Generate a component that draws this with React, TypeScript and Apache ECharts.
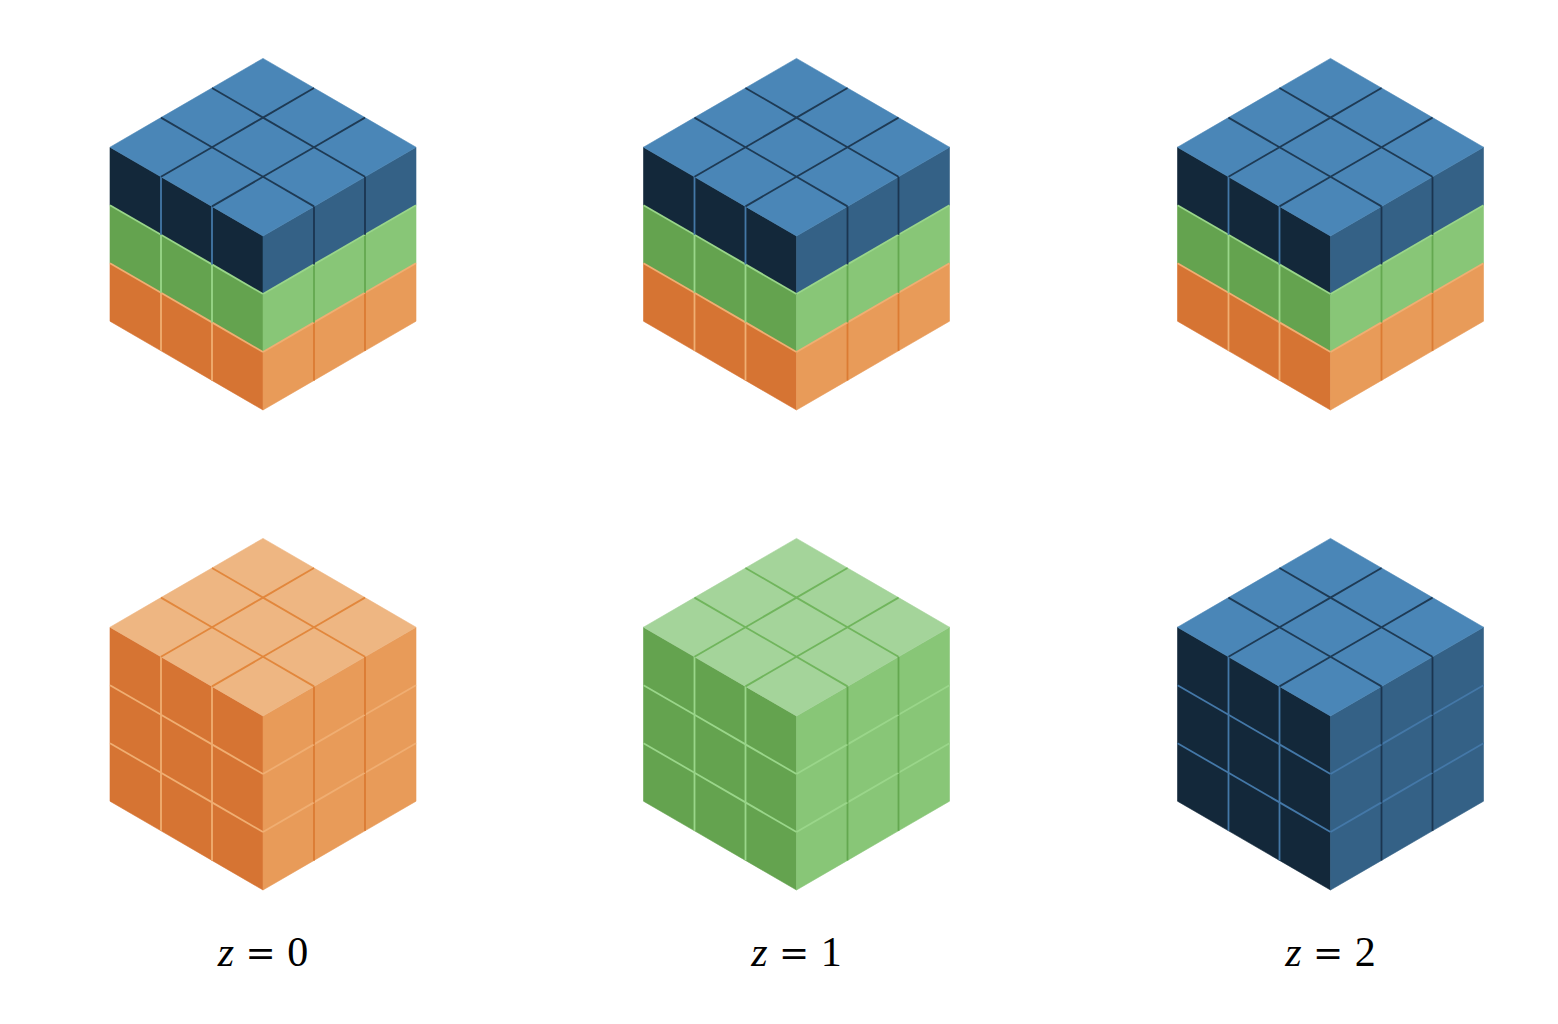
import React, { useEffect, useRef } from 'react';
import * as echarts from 'echarts';

// which colour each layer (c = 0 bottom .. 2 top) of every 3x3x3 block has
const panelLayers: string[][] = [
  ['orange', 'green', 'blue'],
  ['orange', 'green', 'blue'],
  ['orange', 'green', 'blue'],
  ['orange', 'orange', 'orange'],
  ['green', 'green', 'green'],
  ['blue', 'blue', 'blue'],
];
const blockSize = [3, 3, 3];
const panelLabels = ['', '', '', '0', '1', '2'];

// colours of the three visible faces and of the grid lines
const FAMILIES: Record<string, any> = {
  blue: { left: '#13283a', right: '#346186', top: '#4a86b7', light: '#4478a8', dark: '#1b3550', topLine: '#1e3a54' },
  orange: { left: '#d67433', right: '#e89b59', top: '#eeb682', light: '#f0ae72', dark: '#db7b33', topLine: '#e2873c' },
  green: { left: '#64a34f', right: '#88c677', top: '#a4d49a', light: '#9ad68a', dark: '#64a850', topLine: '#70b55c' },
};

// layout in chart pixels
const COL_X = [255, 788.5, 1322.5];
const ROW_Y = [402, 882];
const LABEL_Y = 944;
const DX = 51;
const DY = 29.6;
const DH = 58;

const voxels: number[][] = [];
panelLayers.forEach((_, p) => {
  for (let c = 0; c < blockSize[2]; c++)
    for (let a = 0; a < blockSize[0]; a++)
      for (let b = 0; b < blockSize[1]; b++) voxels.push([p, a, b, c]);
});
// back to front
voxels.sort((u, v) => (v[1] + v[2] - v[3]) - (u[1] + u[2] - u[3]));

const has = (a: number, b: number, c: number) =>
  a >= 0 && b >= 0 && c >= 0 && a < blockSize[0] && b < blockSize[1] && c < blockSize[2];
const leftVis = (a: number, b: number, c: number) => has(a, b, c) && !has(a, b - 1, c);
const rightVis = (a: number, b: number, c: number) => has(a, b, c) && !has(a - 1, b, c);
const topVis = (a: number, b: number, c: number) => has(a, b, c) && !has(a, b, c + 1);

const makeProj = (api: any, p: number) => (A: number, B: number, C: number) =>
  api.coord([COL_X[p % 3] + (B - A) * DX, ROW_Y[Math.floor(p / 3)] - (A + B) * DY - C * DH]);

const App: React.FC = () => {
  const chartRef = useRef<HTMLDivElement>(null);

  useEffect(() => {
    if (!chartRef.current) return;
    const chart = echarts.init(chartRef.current, undefined, { renderer: 'svg' });

    const renderFaces = (params: any, api: any) => {
      const p = api.value(0), a = api.value(1), b = api.value(2), c = api.value(3);
      const fam = FAMILIES[panelLayers[p][c]];
      const P = makeProj(api, p);
      const children: any[] = [];
      const face = (pts: number[][], fill: string) =>
        children.push({ type: 'polygon', shape: { points: pts }, style: { fill, stroke: fill, lineWidth: 0.6 } });
      if (leftVis(a, b, c)) face([P(a, b, c), P(a + 1, b, c), P(a + 1, b, c + 1), P(a, b, c + 1)], fam.left);
      if (rightVis(a, b, c)) face([P(a, b, c), P(a, b + 1, c), P(a, b + 1, c + 1), P(a, b, c + 1)], fam.right);
      if (topVis(a, b, c)) face([P(a, b, c + 1), P(a + 1, b, c + 1), P(a + 1, b + 1, c + 1), P(a, b + 1, c + 1)], fam.top);
      return { type: 'group', children };
    };

    const renderEdges = (params: any, api: any) => {
      const p = api.value(0), a = api.value(1), b = api.value(2), c = api.value(3);
      const fam = FAMILIES[panelLayers[p][c]];
      const P = makeProj(api, p);
      const children: any[] = [];
      const seg = (u: number[], v: number[], stroke: string) =>
        children.push({ type: 'line', shape: { x1: u[0], y1: u[1], x2: v[0], y2: v[1] }, style: { stroke, lineWidth: 1.8 } });
      if (leftVis(a, b, c)) {
        if (leftVis(a, b, c + 1)) seg(P(a, b, c + 1), P(a + 1, b, c + 1), fam.light);
        if (leftVis(a - 1, b, c)) seg(P(a, b, c), P(a, b, c + 1), fam.light);
      }
      if (rightVis(a, b, c)) {
        if (rightVis(a, b, c + 1)) seg(P(a, b, c + 1), P(a, b + 1, c + 1), fam.light);
        if (rightVis(a, b - 1, c)) seg(P(a, b, c), P(a, b, c + 1), fam.dark);
      }
      if (topVis(a, b, c)) {
        if (topVis(a - 1, b, c)) seg(P(a, b, c + 1), P(a, b + 1, c + 1), fam.topLine);
        if (topVis(a, b - 1, c)) seg(P(a, b, c + 1), P(a + 1, b, c + 1), fam.topLine);
      }
      return { type: 'group', children };
    };

    const renderLabel = (params: any, api: any) => {
      const p = api.value(0);
      const txt = panelLabels[p];
      if (!txt) return null;
      const pt = api.coord([COL_X[p % 3], LABEL_Y]);
      return {
        type: 'text',
        x: pt[0],
        y: pt[1],
        style: {
          text: `{i|z}{e| = }{n|${txt}}`,
          align: 'center',
          verticalAlign: 'middle',
          rich: {
            i: { fontFamily: 'Liberation Serif', fontStyle: 'italic', fontSize: 42, fill: '#000' },
            e: { fontFamily: 'DejaVu Serif', fontSize: 36, fill: '#000' },
            n: { fontFamily: 'Liberation Serif', fontSize: 42, fill: '#000' },
          },
        },
      };
    };

    chart.setOption({
      animation: false,
      grid: { left: 0, right: 0, top: 0, bottom: 0 },
      xAxis: { type: 'value', min: 0, max: 1542, show: false },
      yAxis: { type: 'value', min: 0, max: 1008, inverse: true, show: false },
      series: [
        { type: 'custom', renderItem: renderFaces, data: voxels, encode: { x: 0, y: 1 }, clip: false, silent: true },
        { type: 'custom', renderItem: renderEdges, data: voxels, encode: { x: 0, y: 1 }, clip: false, silent: true, z: 3 },
        {
          type: 'custom',
          renderItem: renderLabel,
          data: panelLabels.map((_, i) => [i]),
          encode: { x: 0 },
          clip: false,
          silent: true,
          z: 4,
        },
      ],
    });

    return () => {
      chart.dispose();
    };
  }, []);

  return <div ref={chartRef} style={{ width: '100%', height: '1008px', backgroundColor: '#fff' }} />;
};

export default App;
